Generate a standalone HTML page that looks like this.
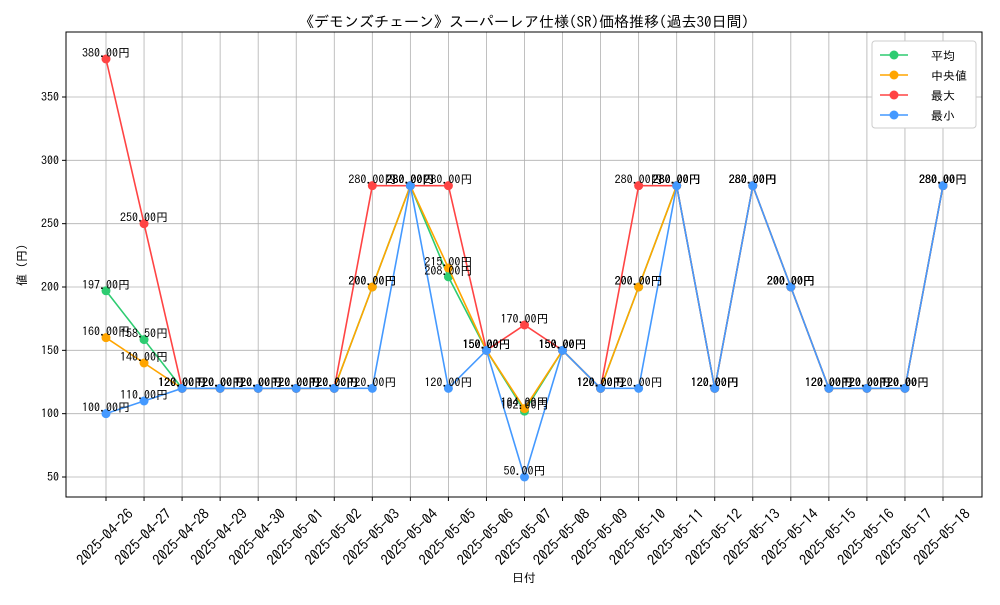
<!DOCTYPE html>
<html><head><meta charset="utf-8"><style>
body{margin:0;background:#fff;}
svg{font-family:"IPAGothic","Noto Sans CJK JP",sans-serif;}
</style></head><body>
<svg id="c" width="1000" height="600"></svg>
<script>
const dates=["2025-04-26","2025-04-27","2025-04-28","2025-04-29","2025-04-30","2025-05-01","2025-05-02","2025-05-03","2025-05-04","2025-05-05","2025-05-06","2025-05-07","2025-05-08","2025-05-09","2025-05-10","2025-05-11","2025-05-12","2025-05-13","2025-05-14","2025-05-15","2025-05-16","2025-05-17","2025-05-18"];
const avgVals=[197,158.5,120,120,120,120,120,200,280,208,150,102,150,120,200,280,120,280,200,120,120,120,280];
const medVals=[160,140,120,120,120,120,120,200,280,215,150,104,150,120,200,280,120,280,200,120,120,120,280];
const maxVals=[380,250,120,120,120,120,120,280,280,280,150,170,150,120,280,280,120,280,200,120,120,120,280];
const minVals=[100,110,120,120,120,120,120,120,280,120,150,50,150,120,120,280,120,280,200,120,120,120,280];
const yTicks=[50,100,150,200,250,300,350];
const seriesNames=["平均","中央値","最大","最小"];
const NS="http://www.w3.org/2000/svg";
const svg=document.getElementById('c');
const L=66,R=982,T=32,B=497;
const x=i=>106+i*(943-106)/(dates.length-1);
const y=v=>477-(v-50)*380/300;
function el(t,a,p){const e=document.createElementNS(NS,t);for(const k in a)e.setAttribute(k,a[k]);(p||svg).appendChild(e);return e;}
dates.forEach((d,i)=>{const g=el('line',{x1:x(i),x2:x(i),y1:T,y2:B,stroke:'#b0b0b0','stroke-width':0.8});


el('line',{x1:x(i),x2:x(i),y1:B,y2:B+4,stroke:'#000'});
const t=el('text',{x:0,y:5,'font-size':14.5,'text-anchor':'middle',transform:`translate(${x(i)-1},${B+40}) rotate(-45)`});t.textContent=d;

});
yTicks.forEach(v=>{const g=el('line',{x1:L,x2:R,y1:y(v),y2:y(v),stroke:'#b0b0b0','stroke-width':0.8});


el('line',{x1:L-4,x2:L,y1:y(v),y2:y(v),stroke:'#000'});
const t=el('text',{x:L-7,y:y(v)+4,'font-size':12,'text-anchor':'end'});t.textContent=v;

});
const fr=el('rect',{x:L,y:T,width:R-L,height:B-T,fill:'none',stroke:'#000','stroke-width':1});


const colors=["#2ecc71","#ffa500","#ff4444","#4499ff"];
const all=[avgVals,medVals,maxVals,minVals];
all.forEach((vals,s)=>{
 const p=el('polyline',{points:vals.map((v,i)=>x(i)+','+y(v)).join(' '),fill:'none',stroke:colors[s],'stroke-width':1.6});
 
 
 vals.forEach((v,i)=>{const c=el('circle',{cx:x(i),cy:y(v),r:4.5,fill:colors[s]});
 
 });
});
all.forEach((vals,s)=>{vals.forEach((v,i)=>{const t=el('text',{x:x(i),y:y(v)-2,'font-size':12,'text-anchor':'middle'});t.textContent=v.toFixed(2)+'円';

});});
const ti=el('text',{x:524,y:27,'font-size':15,'text-anchor':'middle'});ti.textContent='《デモンズチェーン》スーパーレア仕様(SR)価格推移(過去30日間)';


const xt=el('text',{x:524,y:582,'font-size':12,'text-anchor':'middle'});xt.textContent='日付';


const yt=el('text',{x:0,y:0,'font-size':12,'text-anchor':'middle',transform:'translate(26,265) rotate(-90)'});yt.textContent='値 (円)';


const lg=el('rect',{x:872,y:41,width:104,height:87,fill:'#fff',stroke:'#ccc',rx:3});


seriesNames.forEach((n,s)=>{const yy=55+s*20;
el('line',{x1:880,x2:908,y1:yy,y2:yy,stroke:colors[s],'stroke-width':1.6});
el('circle',{cx:894,cy:yy,r:4.5,fill:colors[s]});
const t=el('text',{x:931,y:yy+5,'font-size':12});t.textContent=n;

});
</script></body></html>
